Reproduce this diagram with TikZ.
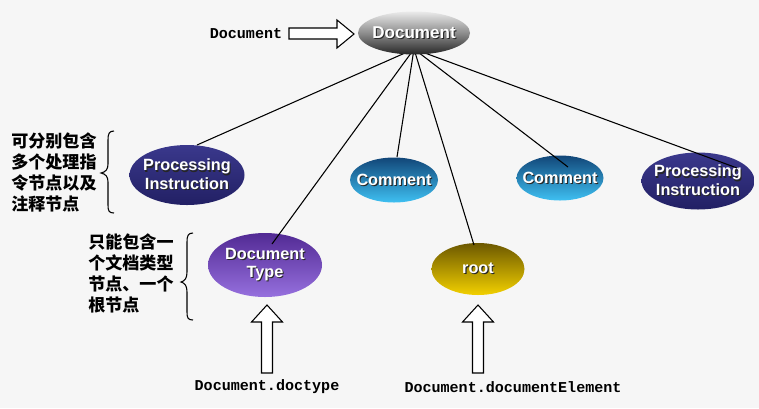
\documentclass[tikz,border=0pt]{standalone}
\usepackage{fontspec}
\setmainfont{Liberation Sans}
\newfontfamily\monof{Liberation Mono}
\newfontfamily\cjk{Noto Sans CJK SC}
\usetikzlibrary{shapes.geometric,calc}
\definecolor{bgc}{RGB}{246,246,246}
\definecolor{pitop}{RGB}{58,56,140}
\definecolor{pibot}{RGB}{34,32,100}
\definecolor{cmtop}{RGB}{18,70,120}
\definecolor{cmbot}{RGB}{62,192,242}
\definecolor{dttop}{RGB}{82,42,148}
\definecolor{dtbot}{RGB}{150,112,222}
\definecolor{rttop}{RGB}{108,88,0}
\definecolor{rtbot}{RGB}{242,208,0}
\newcommand\shd[1]{\rlap{\hspace{0.8pt}\raisebox{-0.8pt}{\color{black!85}#1}}#1}
\tikzset{
  ell/.style={ellipse, inner xsep=-10pt, inner ysep=-5pt, text=white, align=center,
    font=\bfseries\fontsize{12.2}{14}\selectfont},
  link/.style={draw=black, line width=0.8pt},
  hollow/.style={draw=black, fill=white, line width=0.8pt},
  mono/.style={font=\monof\bfseries\fontsize{11.3}{13}\selectfont, inner sep=0pt},
  cjktext/.style={font=\cjk\bfseries\fontsize{12.8}{15.9}\selectfont, align=left, inner sep=0pt, anchor=north west},
  bracepath/.style={draw=black, line width=0.8pt}
}
\begin{document}
\begin{tikzpicture}[x=0.75pt,y=-0.75pt]
\fill[bgc] (0,0) rectangle (759,408);
\useasboundingbox (0,0) rectangle (759,408);

% child ellipses
\node[ell, minimum width=115*0.75pt, minimum height=60*0.75pt, top color=pitop, bottom color=pibot] (pil) at (187,175) {\shd{Processing}\\\shd{Instruction}};
\node[ell, minimum width=88*0.75pt, minimum height=45*0.75pt, top color=cmtop, bottom color=cmbot] (cm1) at (394,180) {\shd{Comment}};
\node[ell, minimum width=87*0.75pt, minimum height=45*0.75pt, top color=cmtop, bottom color=cmbot] (cm2) at (560,178) {\shd{Comment}};
\node[ell, minimum width=113*0.75pt, minimum height=57*0.75pt, top color=pitop, bottom color=pibot] (pir) at (698,181) {\shd{Processing}\\\shd{Instruction}};
\node[ell, minimum width=114*0.75pt, minimum height=64*0.75pt, top color=dttop, bottom color=dtbot] (dt) at (265,265) {\shd{Document}\\\shd{Type}};
\node[ell, minimum width=93*0.75pt, minimum height=52*0.75pt, top color=rttop, bottom color=rtbot] (rt) at (478,269) {\shd{root}};

% fan origin
\coordinate (fan) at (414,49);
\draw[link] (fan) -- ($(pil)+(10,-30)$);
\draw[link] (fan) -- ($(cm1)+(3,-23)$);
\draw[link] (fan) -- ($(dt)+(7,-21)$);
\draw[link] (fan) -- ($(rt)+(-4,-24)$);
\draw[link] (fan) -- ($(cm2)+(8,-11)$);
\draw[link] (fan) -- ($(pir)+(39,-13)$);

% top document
\node[ell, minimum width=112*0.75pt, minimum height=43*0.75pt, top color=black!8, bottom color=black!85, middle color=black!45, font=\bfseries\fontsize{12.8}{14}\selectfont] (doc) at (414,33) {\shd{Document}};

% top label and hollow right arrow
\node[mono] (doclbl) at (246,34) {Document};
\draw[hollow] (289,28) -- (337,28) -- (337,20) -- (354,34) -- (337,48) -- (337,39) -- (289,39) -- cycle;

% bottom labels
\node[mono] (dtlbl) at (267,387) {Document.doctype};
\node[mono] (rtlbl) at (513,387) {Document.documentElement};
\draw[hollow] (267,305) -- (282.5,322) -- (272.5,322) -- (272.5,373) -- (261.5,373) -- (261.5,322) -- (251.5,322) -- cycle;
\draw[hollow] (478,305) -- (493.5,322) -- (483.5,322) -- (483.5,373) -- (472.5,373) -- (472.5,322) -- (462.5,322) -- cycle;

% chinese notes
\node[cjktext] (note1) at (11,132) {可分别包含\\多个处理指\\令节点以及\\注释节点};
\node[cjktext] (note2) at (88,233) {只能包含一\\个文档类型\\节点、一个\\根节点};

% braces
\draw[bracepath] (114,131) .. controls (109,131) and (108,134) .. (108,140) -- (108,164) .. controls (108,169) and (106,172) .. (101,173) .. controls (106,174) and (108,177) .. (108,182) -- (108,205) .. controls (108,211) and (109,213) .. (114,213);
\draw[bracepath] (193,233) .. controls (188,233) and (187,236) .. (187,242) -- (187,272) .. controls (187,278) and (185,281) .. (181,282) .. controls (185,283) and (187,286) .. (187,292) -- (187,312) .. controls (187,318) and (188,320) .. (193,320);
\end{tikzpicture}
\end{document}
